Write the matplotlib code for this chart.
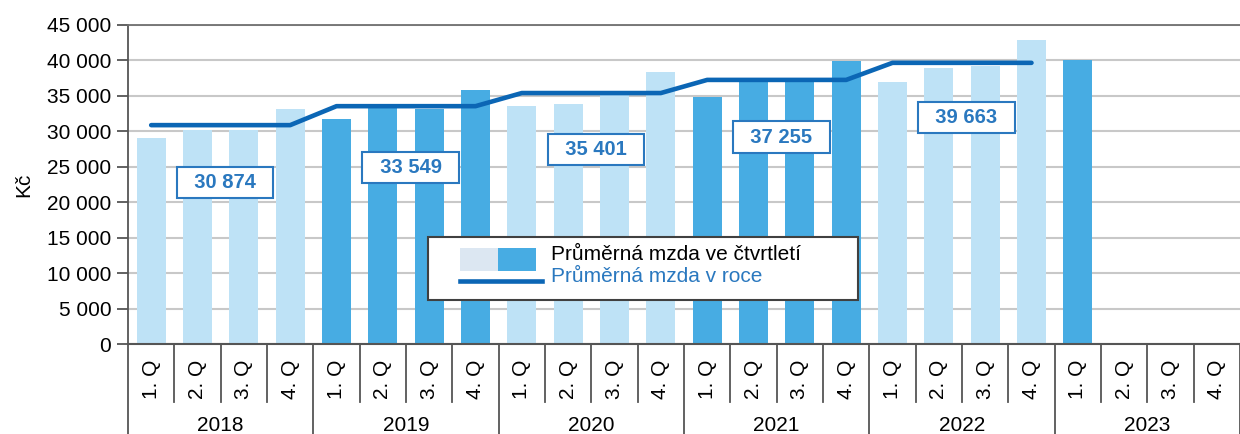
import matplotlib.pyplot as plt
import numpy as np
from matplotlib.patches import Rectangle
import matplotlib.transforms as mtransforms

plt.rcParams['font.family'] = ['Liberation Sans', 'DejaVu Sans']

# --- data ---
years = ["2018", "2019", "2020", "2021", "2022", "2023"]
quarters = ["1. Q", "2. Q", "3. Q", "4. Q"]
quarterly_wage = [29100, 30200, 30200, 33100,
                  31700, 33300, 33100, 35800,
                  33600, 33900, 35100, 38400,
                  34800, 36900, 37000, 39900,
                  37000, 38900, 39200, 42900,
                  40100]
annual_wage = [30874, 33549, 35401, 37255, 39663]
annual_labels = ["30 874", "33 549", "35 401", "37 255", "39 663"]
label_y = [22800, 24900, 27400, 29200, 31900]

light = "#BEE2F6"
dark = "#47ACE3"
line_col = "#0B66B5"
label_col = "#2A78BF"

W, H = 1240, 434
L, B, T = 128, 344, 25  # plot area in pixels

fig = plt.figure(figsize=(W / 100, H / 100), dpi=100)
ax = fig.add_axes([L / W, (H - B) / H, 1 - L / W, (B - T) / H])


def ax_xy(px, py):
    # pixel position -> axes fraction
    return (px - L) / (W - L), (B - py) / (B - T)


n_slots = len(years) * 4
x = np.arange(len(quarterly_wage))
colors = [light if (i // 4) % 2 == 0 else dark for i in x]
ax.bar(x, quarterly_wage, width=0.63, color=colors, zorder=2)

# annual average line, flat over each year's quarters
lx, ly = [], []
for k, v in enumerate(annual_wage):
    lx += [4 * k, 4 * k + 3]
    ly += [v, v]
ax.plot(lx, ly, color=line_col, lw=3.3, solid_capstyle="round", zorder=3)

for k, (t, yv) in enumerate(zip(annual_labels, label_y)):
    ax.text(4 * k + 1.6, yv, "  " + t + "  ", ha="center", va="center", fontsize=14.5,
            fontweight="bold", color=label_col, zorder=4,
            bbox=dict(boxstyle="square,pad=0.3", fc="white", ec=label_col, lw=1.5))

ax.set_xlim(-0.5, n_slots - 0.5)
ax.set_ylim(0, 45000)
ax.set_yticks(np.arange(0, 45001, 5000))
ax.set_yticklabels([f"{v:,}".replace(",", " ") for v in range(0, 45001, 5000)], fontsize=15)
ax.yaxis.grid(True, color="#C8C8C8", lw=1.5, zorder=0)
ax.set_axisbelow(True)
ax.set_ylabel("Kč", fontsize=15, labelpad=10)
ax.tick_params(axis="y", direction="out", length=8, width=1.3, color="#555555", pad=4)
ax.set_xticks([])
ax.spines["right"].set_visible(False)
ax.spines["top"].set_color("#707070")
ax.spines["top"].set_linewidth(1.3)
ax.spines["left"].set_color("#555555")
ax.spines["left"].set_linewidth(1.3)
ax.spines["bottom"].set_color("#555555")
ax.spines["bottom"].set_linewidth(1.5)

# category axis: quarters and years
trans = mtransforms.blended_transform_factory(ax.transData, ax.transAxes)
for i in range(n_slots):
    ax.text(i, -0.11, quarters[i % 4], rotation=90, ha="center", va="center",
            fontsize=15, transform=trans)
for i in range(n_slots + 1):
    b = i - 0.5
    bottom = -0.285 if i % 4 == 0 else -0.182
    ax.plot([b, b], [0, bottom], color="#555555", lw=1.3, transform=trans, clip_on=False)
for k, yr in enumerate(years):
    ax.text(4 * k + 1.5, -0.255, yr, ha="center", va="center", fontsize=15, transform=trans)

# legend, drawn by hand to match the box proportions
x0, y1 = ax_xy(428, 300)
x1, y0 = ax_xy(858, 237)
ax.add_patch(Rectangle((x0, y1), x1 - x0, y0 - y1, transform=ax.transAxes, fc="white",
                       ec="#404040", lw=1.5, zorder=5))
px0, py0 = ax_xy(460, 271)
px1, py1 = ax_xy(498, 248)
px2, _ = ax_xy(536, 248)
ax.add_patch(Rectangle((px0, py0), px1 - px0, py1 - py0, transform=ax.transAxes,
                       fc="#DCE7F2", ec="none", zorder=6))
ax.add_patch(Rectangle((px1, py0), px2 - px1, py1 - py0, transform=ax.transAxes,
                       fc=dark, ec="none", zorder=6))
lx0, ly0 = ax_xy(460, 281)
lx1, _ = ax_xy(542, 281)
ax.plot([lx0, lx1], [ly0, ly0], color=line_col, lw=3.3, transform=ax.transAxes, zorder=6)
tx, ty1 = ax_xy(551, 255)
_, ty2 = ax_xy(551, 276)
ax.text(tx, ty1, "Průměrná mzda ve čtvrtletí", fontsize=15, va="center", ha="left",
        transform=ax.transAxes, zorder=7)
ax.text(tx, ty2, "Průměrná mzda v roce", fontsize=15, va="center", ha="left",
        color=label_col, transform=ax.transAxes, zorder=7)

fig.savefig("out.png", dpi=100)
